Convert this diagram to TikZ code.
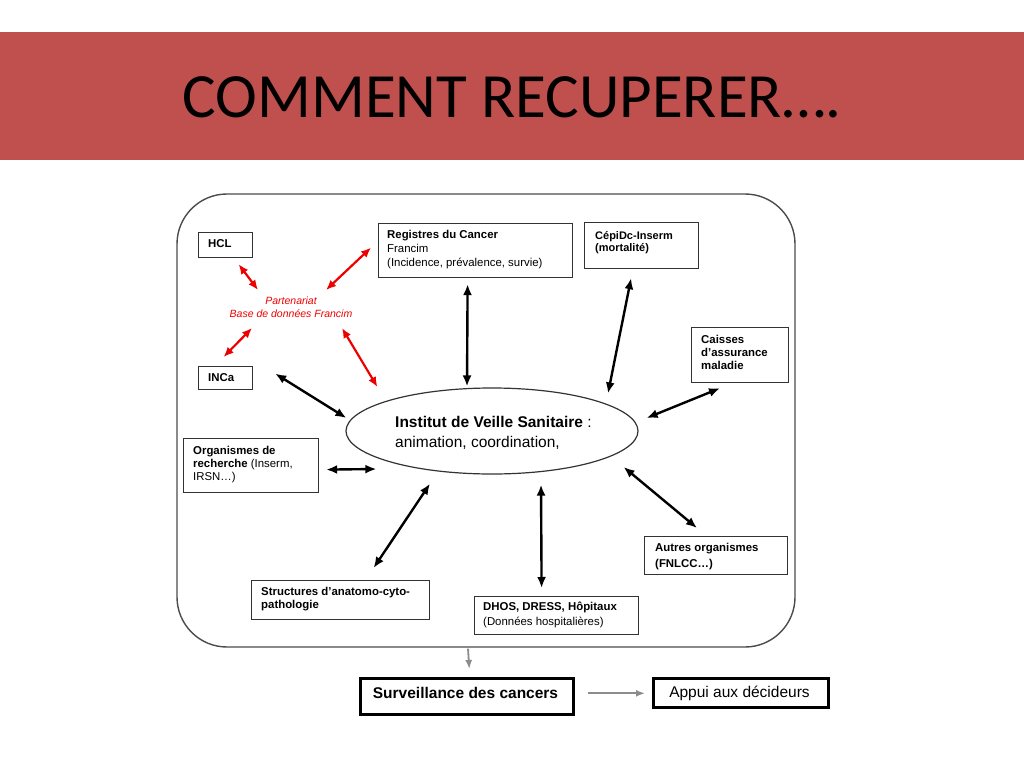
\documentclass[tikz,border=0pt]{standalone}
\usepackage{fontspec}
\setmainfont{Liberation Sans}
\newfontfamily\titlefont{Carlito}
\usetikzlibrary{arrows.meta,calc,shapes.geometric}
\definecolor{barred}{HTML}{C0504D}
\definecolor{arrred}{HTML}{EE0000}
\begin{document}
\begin{tikzpicture}[x=1pt,y=-1pt,
  box/.style={draw=black!80, line width=1.2pt, fill=white, anchor=north west, inner sep=0pt},
  thickbox/.style={draw=black, line width=2.6pt, fill=white, anchor=north west, inner sep=0pt},
  txt/.style={anchor=base west, inner sep=0pt, align=left, font=\fontsize{11.4}{13}\selectfont},
  btxt/.style={txt, font=\fontsize{11.4}{13}\selectfont\bfseries},
  arr/.style={{Latex[length=11pt,width=9pt]}-{Latex[length=11pt,width=9pt]}, line width=2.4pt, color=black},
  rarr/.style={{Latex[length=10pt,width=8.5pt]}-{Latex[length=10pt,width=8.5pt]}, color=arrred, line width=2.2pt},
  garr/.style={-{Latex[length=9pt,width=7pt]}, line width=1.8pt, color=black!45}
]
\useasboundingbox (0,0) rectangle (1024,768);
\fill[white] (0,0) rectangle (1024,768);

% title bar
\node[fill=barred, inner sep=0pt, minimum width=1024pt, minimum height=128pt, anchor=north west] (bar) at (0,32) {};
\node[anchor=base, inner sep=0pt, font=\titlefont\fontsize{63}{70}\selectfont] (title) at (512,117) {COMMENT RECUPERER….};

% outer rounded frame
\node[draw=black!70, line width=1.4pt, rounded corners=50pt, minimum width=618pt, minimum height=453pt, inner sep=0pt] (outer) at (486,420.5) {};

% central ellipse
\node[ellipse, draw=black!80, line width=1.2pt, fill=white, minimum width=292pt, minimum height=86pt, inner sep=0pt] (ivs) at (492,431) {};
\node[anchor=base west, inner sep=0pt, align=left, font=\fontsize{15.5}{20}\selectfont] (ivsT) at (395,447)
  {\textbf{Institut de Veille Sanitaire} :\\animation, coordination,};

% boxes
\node[box, minimum width=54pt, minimum height=25pt] (hcl) at (198,232) {};
\node[btxt] (hclT) at (208,247) {HCL};

\node[box, minimum width=194pt, minimum height=54pt] (reg) at (378,223) {};
\node[txt, font=\fontsize{11.4}{14}\selectfont] (regT) at (387,266.5) {\textbf{Registres du Cancer}\\Francim\\(Incidence, prévalence, survie)};

\node[box, minimum width=114pt, minimum height=46pt] (cep) at (584,222) {};
\node[btxt, font=\fontsize{11}{11.5}\selectfont\bfseries] (cepT) at (595,251) {CépiDc-Inserm\\(mortalité)};

\node[box, minimum width=97pt, minimum height=55pt] (cai) at (691,327) {};
\node[btxt] (caiT) at (701,369.5) {Caisses\\d’assurance\\maladie};

\node[box, minimum width=54pt, minimum height=23pt] (inca) at (198,366) {};
\node[btxt] (incaT) at (208,381) {INCa};

\node[box, minimum width=135pt, minimum height=54pt] (org) at (183,438) {};
\node[txt] (orgT) at (193,480.5) {\textbf{Organismes de}\\\textbf{recherche} (Inserm,\\IRSN…)};

\node[box, minimum width=178pt, minimum height=39pt] (str) at (251,580) {};
\node[btxt] (strT) at (261,608.5) {Structures d’anatomo-cyto-\\pathologie};

\node[box, minimum width=164pt, minimum height=38pt] (dhos) at (474,596) {};
\node[txt, font=\fontsize{11.4}{15}\selectfont] (dhosT) at (483,625.5) {\textbf{DHOS, DRESS, Hôpitaux}\\(Données hospitalières)};

\node[box, minimum width=143pt, minimum height=38pt] (aut) at (644,536) {};
\node[btxt, font=\fontsize{11.4}{16}\selectfont\bfseries] (autT) at (655,567.5) {Autres organismes\\(FNLCC…)};

\node[thickbox, minimum width=213pt, minimum height=36pt] (surv) at (359,677) {};
\node[anchor=base, inner sep=0pt, font=\fontsize{15.5}{18}\selectfont\bfseries] (survT) at (465.5,698) {Surveillance des cancers};

\node[thickbox, minimum width=175pt, minimum height=29pt] (app) at (652,677) {};
\node[anchor=base, inner sep=0pt, font=\fontsize{15.5}{18}\selectfont] (appT) at (739.5,697) {Appui aux décideurs};

% partnership label
\node[align=center, inner sep=0pt, text=arrred, font=\fontsize{10.5}{13}\selectfont\itshape] (part) at (291,307) {Partenariat\\Base de données Francim};

% black arrows
\draw[arr] ($(reg.south)+(-8,6)$) -- ($(ivs.north)+(-25,-1)$);
\draw[arr] ($(cep.south)+(-10.5,9)$) -- ($(ivs.north)+(116,6)$);
\draw[arr] ($(cai.south west)+(29,5)$) -- ($(ivs.east)+(8,-13)$);
\draw[arr] ($(aut.north west)+(53,-8)$) -- ($(ivs.east)+(-15,36)$);
\draw[arr] ($(dhos.north)+(-15,-8)$) -- ($(ivs.south)+(49,10)$);
\draw[arr] ($(str.north)+(33,-12)$) -- ($(ivs.south)+(-62,9)$);
\draw[arr] ($(org.east)+(7,4)$) -- ($(ivs.west)+(31,38)$);
\draw[arr] ($(inca.east)+(22,-4.5)$) -- ($(ivs.west)+(1,-13)$);

% red arrows
\draw[rarr] ($(hcl.south)+(13,6)$) -- ($(part)+(-33,-17)$);
\draw[rarr] ($(reg.west)+(-7,-3)$) -- ($(part)+(35,-17)$);
\draw[rarr] ($(inca.north)+(-2,-9)$) -- ($(part)+(-39,21)$);
\draw[rarr] ($(ivs.west)+(32,-44)$) -- ($(part)+(51,21)$);

% grey arrows
\draw[garr] ($(outer.south)+(-18,1)$) -- ($(surv.north)+(2.5,-8)$);
\draw[garr] ($(surv.east)+(13,-3)$) -- ($(app.west)+(-7,0.5)$);
\end{tikzpicture}
\end{document}
